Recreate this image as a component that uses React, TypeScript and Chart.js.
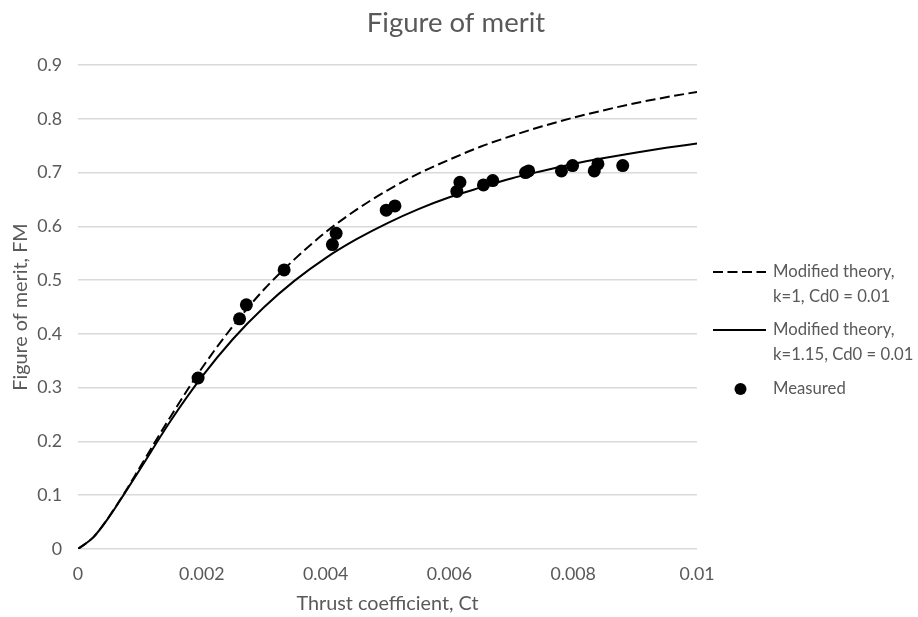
import { useEffect, useRef } from "react";
import { Chart, registerables } from "chart.js";

Chart.register(...registerables);

// ---- data ----
const CT_GRID = [0, 0.00025, 0.0005, 0.00075, 0.001, 0.0015, 0.002, 0.0025, 0.003, 0.0035, 0.004, 0.0045, 0.005, 0.0055, 0.006, 0.0065, 0.007, 0.0075, 0.008, 0.0085, 0.009, 0.0095, 0.01];
const FM_K1 = [0, 0.022, 0.060, 0.104, 0.152, 0.247, 0.336, 0.414, 0.482, 0.539, 0.589, 0.631, 0.667, 0.698, 0.724, 0.748, 0.768, 0.786, 0.802, 0.816, 0.829, 0.840, 0.850];
const FM_K115 = [0, 0.022, 0.059, 0.103, 0.148, 0.239, 0.320, 0.390, 0.449, 0.499, 0.541, 0.576, 0.606, 0.632, 0.654, 0.672, 0.689, 0.703, 0.716, 0.727, 0.737, 0.746, 0.754];

const MEAS_CT = [0.00194, 0.00261, 0.00272, 0.00333, 0.00411, 0.00417, 0.00498, 0.00512, 0.00612, 0.00617, 0.00655, 0.0067, 0.00723, 0.00728, 0.00781, 0.00799, 0.00834, 0.0084, 0.0088];
const MEAS_FM = [0.318, 0.428, 0.454, 0.519, 0.566, 0.587, 0.630, 0.638, 0.665, 0.682, 0.677, 0.685, 0.700, 0.703, 0.703, 0.713, 0.703, 0.716, 0.713];

const X_TICK_LABELS = ["0", "0.002", "0.004", "0.006", "0.008", "0.01"];
const Y_TICK_LABELS = ["0", "0.1", "0.2", "0.3", "0.4", "0.5", "0.6", "0.7", "0.8", "0.9"];

const CHART_TITLE = "Figure of merit";
const SERIES_NAMES = [
  ["Modified theory,", "k=1, Cd0 = 0.01"],
  ["Modified theory,", "k=1.15, Cd0 = 0.01"],
  ["Measured"],
];

const FONT = "Lato, 'Open Sans', sans-serif";
const TEXT = "#595959";
const GRID = "#d9d9d9";

const titleLegendPlugin = {
  id: "titleAndSideLegend",
  afterDraw(chart: any) {
    const ctx = chart.ctx;
    ctx.save();
    // title
    ctx.font = `27.5px ${FONT}`;
    ctx.fillStyle = TEXT;
    ctx.textAlign = "center";
    ctx.textBaseline = "middle";
    ctx.fillText(CHART_TITLE, 456, 23);

    // legend
    ctx.font = `16.7px ${FONT}`;
    ctx.textAlign = "left";
    const sx0 = 713, sx1 = 766, tx = 773, lh = 25;
    const rows = [272, 330, 389];
    ctx.strokeStyle = "#000";
    ctx.lineWidth = 2;
    ctx.setLineDash([10, 4.5]);
    ctx.beginPath();
    ctx.moveTo(sx0, rows[0]);
    ctx.lineTo(sx1, rows[0]);
    ctx.stroke();
    ctx.setLineDash([]);
    ctx.beginPath();
    ctx.moveTo(sx0, rows[1]);
    ctx.lineTo(sx1, rows[1]);
    ctx.stroke();
    ctx.fillStyle = "#000";
    ctx.beginPath();
    ctx.arc((sx0 + sx1) / 2 + 1, rows[2], 6, 0, Math.PI * 2);
    ctx.fill();
    ctx.fillStyle = TEXT;
    SERIES_NAMES.forEach((lines, i) => {
      lines.forEach((t, j) => ctx.fillText(t, tx, rows[i] + j * lh));
    });
    ctx.restore();
  },
};

export default function App() {
  const ref = useRef<HTMLCanvasElement>(null);
  useEffect(() => {
    if (!ref.current) return;
    const chart = new Chart(ref.current, {
      type: "scatter",
      data: {
        datasets: [
          {
            label: SERIES_NAMES[2][0],
            data: MEAS_CT.map((x, i) => ({ x, y: MEAS_FM[i] })),
            pointRadius: 6.5,
            pointBackgroundColor: "#000",
            pointBorderColor: "#000",
            pointBorderWidth: 0,
            showLine: false,
            order: 0,
          },
          {
            label: SERIES_NAMES[0].join(" "),
            data: CT_GRID.map((x, i) => ({ x, y: FM_K1[i] })),
            showLine: true,
            borderColor: "#000",
            borderWidth: 2,
            borderDash: [10, 4.5],
            pointRadius: 0,
            cubicInterpolationMode: "monotone",
            order: 1,
          },
          {
            label: SERIES_NAMES[1].join(" "),
            data: CT_GRID.map((x, i) => ({ x, y: FM_K115[i] })),
            showLine: true,
            borderColor: "#000",
            borderWidth: 2,
            pointRadius: 0,
            cubicInterpolationMode: "monotone",
            order: 2,
          },
        ],
      },
      options: {
        animation: false,
        responsive: false,
        layout: { padding: { left: 0, right: 221, top: 65, bottom: 0 } },
        plugins: {
          legend: { display: false },
          tooltip: { enabled: false },
          title: { display: false },
        },
        scales: {
          x: {
            type: "linear",
            min: 0,
            max: 0.01,
            grid: { display: false, drawTicks: false },
            border: { display: false },
            ticks: {
              stepSize: 0.002,
              padding: 15,
              color: TEXT,
              font: { family: FONT, size: 17.8 },
              maxRotation: 0,
              callback: (_v: any, i: number) => X_TICK_LABELS[i],
            },
            title: {
              display: true,
              text: "Thrust coefficient, Ct",
              color: TEXT,
              font: { family: FONT, size: 19.8 },
              padding: { top: 0, bottom: 2 },
            },
            afterFit: (s: any) => { s.height = 68; },
          },
          y: {
            type: "linear",
            min: 0,
            max: 0.9,
            grid: { color: GRID, lineWidth: 1.5, drawTicks: false },
            border: { display: false },
            ticks: {
              stepSize: 0.1,
              padding: 16,
              color: TEXT,
              font: { family: FONT, size: 17.8 },
              callback: (_v: any, i: number) => Y_TICK_LABELS[i],
            },
            title: {
              display: true,
              text: "Figure of merit, FM",
              color: TEXT,
              font: { family: FONT, size: 19.8 },
              padding: { top: 9, bottom: 0 },
            },
            afterFit: (s: any) => { s.width = 78; },
          },
        },
      },
      plugins: [titleLegendPlugin],
    });
    return () => chart.destroy();
  }, []);
  return (
    <div style={{ position: "absolute", left: 0, top: 0, width: 918, height: 617, background: "#fff" }}>
      <canvas ref={ref} width={918} height={617} style={{ display: "block" }} />
    </div>
  );
}
